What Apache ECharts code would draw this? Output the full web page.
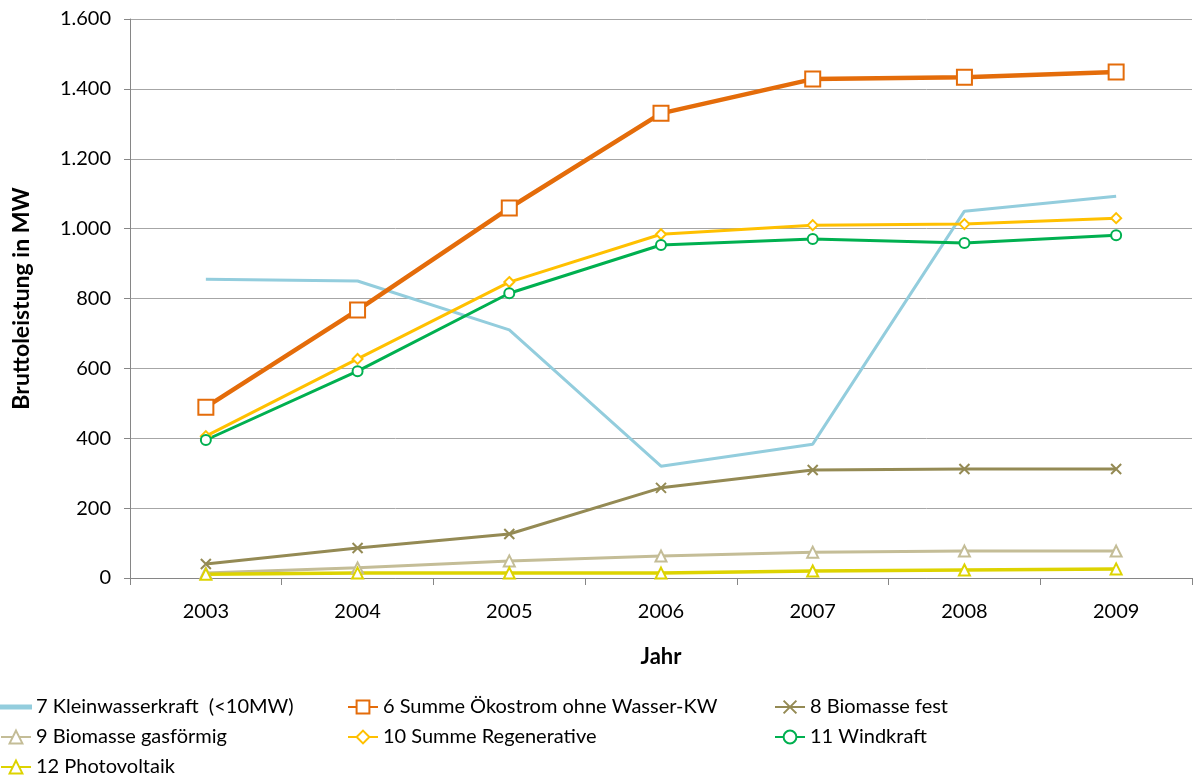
<!DOCTYPE html>
<html>
<head>
<meta charset="utf-8">
<title>Bruttoleistung</title>
<script src="https://cdn.jsdelivr.net/npm/echarts@6/dist/echarts.min.js"></script>
<style>
  html, body { margin: 0; padding: 0; background: #fff; }
  #chart { width: 1200px; height: 778px; }
</style>
</head>
<body>
<div id="chart"></div>
<script>
// Jahre
var years = ['2003', '2004', '2005', '2006', '2007', '2008', '2009'];

// Werte in MW
var kleinwasser = [855, 850, 710, 320, 383, 1050, 1093];
var oekostrom = [489, 767, 1059, 1330, 1428, 1433, 1448];
var biomasseFest = [40, 86, 126, 258, 309, 312, 312];
var biomasseGas = [14, 29, 49, 63, 74, 77, 77];
var regenerative = [406, 627, 847, 984, 1010, 1013, 1030];
var windkraft = [395, 592, 815, 953, 970, 959, 981];
var photovoltaik = [11, 14, 14, 14, 20, 23, 26];

var names = [
  '7 Kleinwasserkraft  (<10MW)',
  '6 Summe Ökostrom ohne Wasser-KW',
  '8 Biomasse fest',
  '9 Biomasse gasförmig',
  '10 Summe Regenerative',
  '11 Windkraft',
  '12 Photovoltaik'
];

var font = 'Lato, "Liberation Sans", sans-serif';
var crossPath = 'path://M0,0L10,10M10,0L0,10';

function tausend(v) {
  return String(v).replace(/\B(?=(\d{3})+(?!\d))/g, '.');
}

function linie(name, data, color, width, symbol, size) {
  return {
    name: name,
    type: 'line',
    data: data,
    symbol: symbol || 'none',
    showSymbol: !!symbol,
    symbolSize: size || 8,
    lineStyle: { color: color, width: width },
    itemStyle: { color: color, borderColor: color, borderWidth: 2 },
    emphasis: { disabled: true }
  };
}

var legendText = { fontFamily: font, fontSize: 20, color: '#000' };
function legende(left, items) {
  return {
    orient: 'vertical',
    left: left,
    top: 697,
    height: 81,
    padding: 0,
    itemGap: 10,
    itemWidth: 30,
    itemHeight: 16,
    textStyle: legendText,
    data: items
  };
}

var chart = echarts.init(document.getElementById('chart'));
chart.setOption({
  animation: false,
  grid: { left: 130, right: 8, top: 19, bottom: 200 },
  legend: [
    legende(0, [{ name: names[0], icon: 'path://M0,0H30V3H0Z' }, names[3], names[6]]),
    legende(347, [names[1], names[4]]),
    legende(774, [names[2], names[5]])
  ],
  xAxis: {
    type: 'category',
    data: years,
    boundaryGap: true,
    name: 'Jahr',
    nameLocation: 'middle',
    nameGap: 68,
    nameTextStyle: { fontFamily: font, fontSize: 22, fontWeight: 'bold', color: '#000' },
    axisLine: { lineStyle: { color: '#868686', width: 1 } },
    axisTick: { show: true, length: 7, alignWithLabel: false, lineStyle: { color: '#868686' } },
    axisLabel: { fontFamily: font, fontSize: 20, color: '#000', margin: 24 }
  },
  yAxis: {
    type: 'value',
    min: 0,
    max: 1600,
    interval: 200,
    name: 'Bruttoleistung in MW',
    nameLocation: 'middle',
    nameGap: 97,
    nameTextStyle: { fontFamily: font, fontSize: 23, fontWeight: 'bold', color: '#000' },
    axisLine: { show: true, lineStyle: { color: '#868686', width: 1 } },
    axisTick: { show: true, length: 6, lineStyle: { color: '#868686' } },
    axisLabel: { fontFamily: font, fontSize: 20, color: '#000', margin: 19, formatter: tausend },
    splitLine: { lineStyle: { color: '#a6a6a6', width: 1 } }
  },
  series: [
    linie(names[0], kleinwasser, '#93CDDD', 3),
    linie(names[1], oekostrom, '#E46C0A', 4.5, 'emptyRect', 15),
    linie(names[2], biomasseFest, '#948A54', 3, crossPath, 10),
    linie(names[3], biomasseGas, '#C4BD97', 3, 'emptyTriangle', 11),
    linie(names[4], regenerative, '#FFC000', 3, 'emptyDiamond', 10),
    linie(names[5], windkraft, '#00B050', 3, 'emptyCircle', 10),
    linie(names[6], photovoltaik, '#DDD300', 3.5, 'emptyTriangle', 11)
  ]
});
</script>
</body>
</html>
